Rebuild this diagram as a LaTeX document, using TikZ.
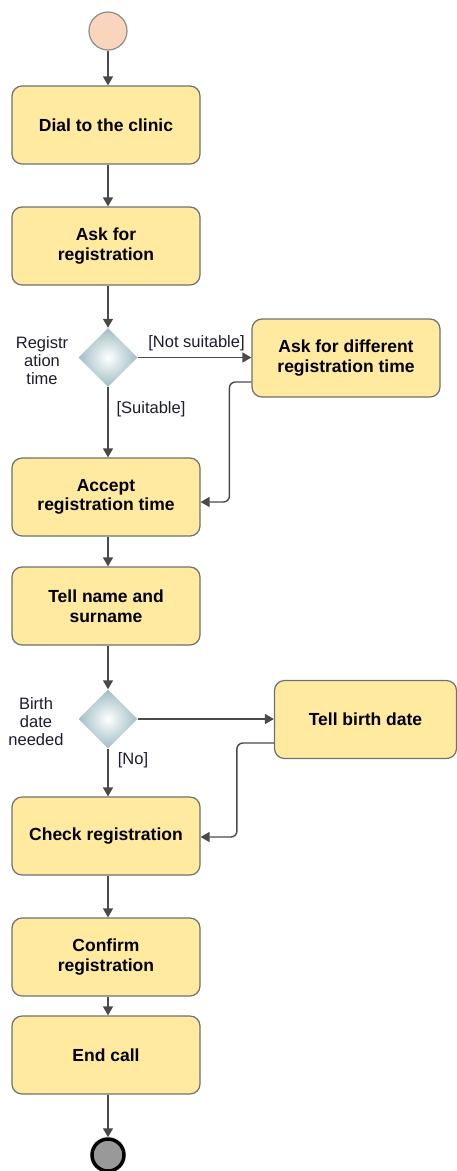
\documentclass[tikz,border=0pt]{standalone}
\usepackage{fontspec}
\setmainfont{Liberation Sans}
\usetikzlibrary{arrows.meta,shapes.geometric}
\definecolor{actfill}{HTML}{FFEAA0}
\definecolor{actline}{HTML}{707070}
\definecolor{flowline}{HTML}{4A4A4A}
\definecolor{startfill}{HTML}{FAD5BE}
\definecolor{decouter}{HTML}{9FBDC4}
\definecolor{labeltext}{HTML}{1C1C2E}
\tikzset{
  activity/.style={draw=actline, line width=1.2pt, fill=actfill, rounded corners=10pt,
    minimum width=188pt, minimum height=78pt, align=center, inner sep=2pt,
    font=\fontsize{17.5}{19.5}\selectfont\bfseries},
  decision/.style={diamond, draw=none, shading=radial, inner color=white, outer color=decouter,
    minimum width=59pt, minimum height=59pt, inner sep=0pt},
  startnode/.style={circle, draw=actline!80, line width=1.2pt, fill=startfill, minimum size=38pt, inner sep=0pt},
  endnode/.style={circle, draw=black, line width=3.5pt, fill=black!40, minimum size=32pt, inner sep=0pt},
  flow/.style={draw=flowline, line width=1.4pt, -{Triangle[length=9pt,width=10pt]}},
  guard/.style={text=labeltext, font=\fontsize{16.5}{18}\selectfont, align=center, inner sep=0pt}
}
\begin{document}
\begin{tikzpicture}[x=1pt,y=-1pt]
\useasboundingbox (0,0) rectangle (457,1171);
\fill[white] (0,0) rectangle (457,1171);

% main column of activities
\node[startnode] (start) at (108,31) {};
\node[activity] (dial) at (106,125) {Dial to the clinic};
\node[activity] (ask) at (106,246) {Ask for\\registration};
\node[decision] (d1) at (108,357.5) {};
\node[activity] (diff) at (346,358) {Ask for different\\registration time};
\node[activity] (accept) at (106,497) {Accept\\registration time};
\node[activity] (name) at (106,606) {Tell name and\\surname};
\node[decision] (d2) at (108,719) {};
\node[activity, minimum width=182pt] (birth) at (365.5,719.5) {Tell birth date};
\node[activity] (check) at (106,836) {Check registration};
\node[activity] (confirm) at (106,957) {Confirm\\registration};
\node[activity] (endcall) at (106,1055) {End call};
\node[endnode] (stop) at (108,1155) {};

% decision captions and guards
\node[guard] (cap1) at (42,361) {Registr\\ation\\time};
\node[guard] (cap2) at (36,722) {Birth\\date\\needed};
\node[guard] (gnot) at (196.5,343) {[Not suitable]};
\node[guard] (gsuit) at (151,409) {[Suitable]};
\node[guard] (gno) at (133,760) {[No]};

% control flow
\draw[flow] (start) -- (start |- dial.north);
\draw[flow] (dial.south -| start) -- (start |- ask.north);
\draw[flow] (ask.south -| d1) -- (d1.north);
\draw[flow] (d1.east) -- (diff.west |- d1.east);
\draw[flow] (d1.south) -- (d1 |- accept.north);
\draw[flow, rounded corners=6pt] ([yshift=-24pt]diff.west) -- ++(-22,0) |- ([yshift=-5pt]accept.east);
\draw[flow] (accept.south -| d1) -- (d1 |- name.north);
\draw[flow] (name.south -| d2) -- (d2.north);
\draw[flow] (d2.east) -- (birth.west |- d2.east);
\draw[flow] (d2.south) -- (d2 |- check.north);
\draw[flow, rounded corners=6pt] ([yshift=-23.5pt]birth.west) -- ++(-37,0) |- ([yshift=-1pt]check.east);
\draw[flow] (check.south -| d2) -- (d2 |- confirm.north);
\draw[flow] (confirm.south -| d2) -- (d2 |- endcall.north);
\draw[flow] (endcall.south -| stop) -- (stop.north);
\end{tikzpicture}
\end{document}
